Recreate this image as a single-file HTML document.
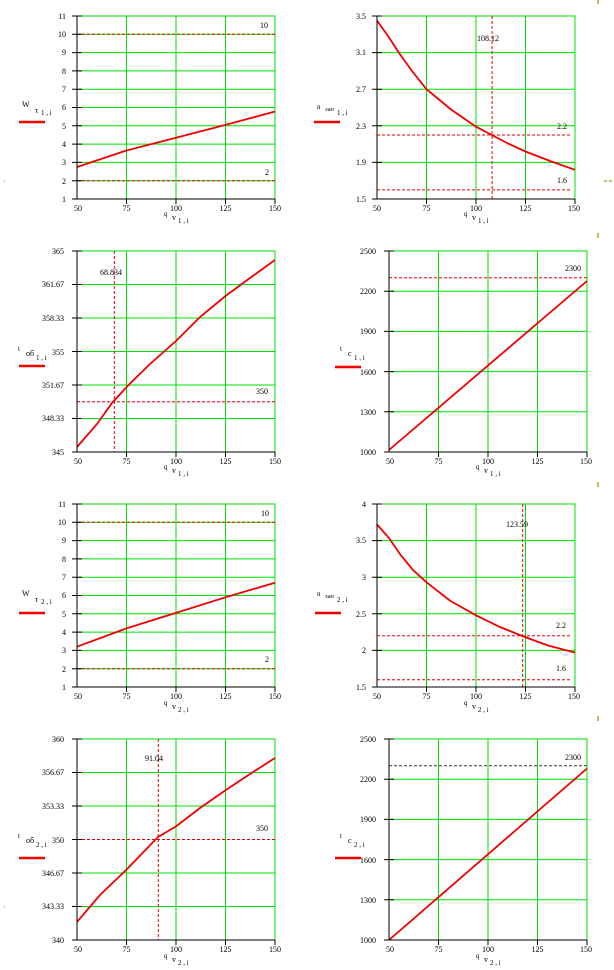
<!DOCTYPE html>
<html><head><meta charset="utf-8"><style>
html,body{margin:0;padding:0;background:#fff;}
svg{display:block;}
text{font-family:"Liberation Serif",serif;font-size:8px;fill:#000;}
.g{stroke:#00e000;stroke-width:1;fill:none;}
.ax{stroke:#000;stroke-width:1;fill:none;}
.c{stroke:#f00000;stroke-width:1.8;fill:none;}
.d{stroke:#e00000;stroke-width:1;stroke-dasharray:3,2;fill:none;}
.dk{stroke:#333;stroke-width:1;stroke-dasharray:3,2;fill:none;}
.lg{stroke:#f00000;stroke-width:2.5;}
.r{text-anchor:end;}
.m{text-anchor:middle;}
.ol{stroke:#8a9a00;stroke-width:1.2;}
</style></head><body>
<svg width="614" height="970" viewBox="0 0 614 970" xmlns="http://www.w3.org/2000/svg">
<!-- misc marks -->
<line class="ol" x1="598" y1="0" x2="598" y2="4"/>
<line class="ol" x1="598" y1="233" x2="598" y2="238"/>
<line class="ol" x1="598" y1="482" x2="598" y2="487"/>
<line class="ol" x1="598" y1="716" x2="598" y2="721"/>
<line class="ol" x1="604" y1="181" x2="607" y2="181"/><line class="ol" x1="609" y1="181" x2="612" y2="181"/>
<line class="ol" x1="4" y1="181" x2="5" y2="181"/>
<line class="ol" x1="4" y1="907" x2="5" y2="907"/>

<!-- ============ PLOT 1 ============ -->
<g>
<path class="g" d="M77,16H275V199 M77,34.3H275 M77,52.6H275 M77,70.9H275 M77,89.2H275 M77,107.5H275 M77,125.8H275 M77,144.1H275 M77,162.4H275 M77,180.7H275 M126.5,16V199 M176,16V199 M225.5,16V199"/>
<line class="d" x1="77" y1="34.3" x2="275" y2="34.3"/>
<line class="d" x1="77" y1="180.7" x2="275" y2="180.7"/>
<polyline class="c" points="77,167 126.5,150.5 176,137.7 225.5,124.9 275,111.5"/>
<path class="ax" d="M77,16V199H275 M72,16H82 M72,34.3H82 M72,52.6H82 M72,70.9H82 M72,89.2H82 M72,107.5H82 M72,125.8H82 M72,144.1H82 M72,162.4H82 M72,180.7H82 M72,199H82 M126.5,199V204 M176,199V204 M225.5,199V204 M275,199V204"/>
<text class="r" x="66" y="19">11</text><text class="r" x="66" y="37">10</text><text class="r" x="66" y="55">9</text><text class="r" x="66" y="74">8</text><text class="r" x="66" y="92">7</text><text class="r" x="66" y="110">6</text><text class="r" x="66" y="129">5</text><text class="r" x="66" y="147">4</text><text class="r" x="66" y="165">3</text><text class="r" x="66" y="184">2</text><text class="r" x="66" y="202">1</text>
<text class="m" x="78" y="211">50</text><text class="m" x="126.5" y="211">75</text><text class="m" x="176" y="211">100</text><text class="m" x="225.5" y="211">125</text><text class="m" x="275" y="211">150</text>
<text x="260" y="28">10</text><text x="265" y="175">2</text>
<text x="22" y="107">W</text><text x="35" y="113">τ</text><text x="41" y="115" style="font-size:7px">1 , i</text>
<line class="lg" x1="19" y1="122" x2="45" y2="122"/>
<text x="164" y="216" style="font-size:7px">q</text><text x="172" y="220">v</text><text x="178" y="223" style="font-size:7px">1 , i</text>
</g>

<!-- ============ PLOT 2 ============ -->
<g>
<path class="g" d="M377,16H575V199 M377,52.6H575 M377,89.2H575 M377,125.8H575 M377,162.4H575 M426.5,16V199 M476,16V199 M525.5,16V199"/>
<line class="d" x1="377" y1="135" x2="572" y2="135"/>
<line class="d" x1="377" y1="189.9" x2="572" y2="189.9"/>
<line class="d" x1="492.1" y1="16" x2="492.1" y2="199"/>
<polyline class="c" points="377,20.6 388,36 398.8,52.6 412,71 426.5,89.2 451,109.5 476,126.7 491.8,135 508,143.5 525.5,151.5 550,161 575,169.8"/>
<path class="ax" d="M377,16V199H575 M372,16H382 M372,52.6H382 M372,89.2H382 M372,125.8H382 M372,162.4H382 M372,199H382 M426.5,199V204 M476,199V204 M525.5,199V204 M575,199V204"/>
<text class="r" x="366" y="19">3.5</text><text class="r" x="366" y="55">3.1</text><text class="r" x="366" y="92">2.7</text><text class="r" x="366" y="129">2.3</text><text class="r" x="366" y="165">1.9</text><text class="r" x="366" y="202">1.5</text>
<text class="m" x="377" y="211">50</text><text class="m" x="426.5" y="211">75</text><text class="m" x="476" y="211">100</text><text class="m" x="525.5" y="211">125</text><text class="m" x="574" y="211">150</text>
<text x="477" y="41">108.12</text><text x="557" y="129">2.2</text><text x="557" y="183">1.6</text>
<text x="317" y="109" style="font-size:7px">n</text><text x="325" y="111" style="font-size:6.5px">зап</text><text x="337" y="115" style="font-size:7px">1 , i</text>
<line class="lg" x1="314" y1="122" x2="340" y2="122"/>
<text x="464" y="216" style="font-size:7px">q</text><text x="472" y="220">v</text><text x="478" y="223" style="font-size:7px">1 , i</text>
</g>

<!-- ============ PLOT 3 ============ -->
<g>
<path class="g" d="M77,251H275V452 M77,284.5H275 M77,318H275 M77,351.5H275 M77,385H275 M77,418.5H275 M126.5,251V452 M176,251V452 M225.5,251V452"/>
<line class="d" x1="77" y1="401.7" x2="275" y2="401.7"/>
<line class="d" x1="114.3" y1="251" x2="114.3" y2="452"/>
<polyline class="c" points="77,447 97,424 112,403 128.5,385 150,364 176,341 200,317 225.5,296 250,278 275,260"/>
<path class="ax" d="M77,251V452H275 M72,251H82 M72,284.5H82 M72,318H82 M72,351.5H82 M72,385H82 M72,418.5H82 M72,452H82 M126.5,452V457 M176,452V457 M225.5,452V457 M275,452V457"/>
<text class="r" x="64" y="254">365</text><text class="r" x="64" y="287">361.67</text><text class="r" x="64" y="321">358.33</text><text class="r" x="64" y="355">355</text><text class="r" x="64" y="388">351.67</text><text class="r" x="64" y="421">348.33</text><text class="r" x="64" y="455">345</text>
<text class="m" x="78" y="464">50</text><text class="m" x="126.5" y="464">75</text><text class="m" x="176" y="464">100</text><text class="m" x="225.5" y="464">125</text><text class="m" x="275" y="464">150</text>
<text x="100" y="275">68.834</text><text x="256" y="394">350</text>
<text x="18" y="351" style="font-size:7px">t</text><text x="26" y="356">об</text><text x="36" y="360" style="font-size:7px">1 , i</text>
<line class="lg" x1="19" y1="366" x2="45" y2="366"/>
<text x="164" y="469" style="font-size:7px">q</text><text x="172" y="473">v</text><text x="178" y="476" style="font-size:7px">1 , i</text>
</g>

<!-- ============ PLOT 4 ============ -->
<g>
<path class="g" d="M389,251H587V452 M389,291.2H587 M389,331.4H587 M389,371.6H587 M389,411.8H587 M438.5,251V452 M488,251V452 M537.5,251V452"/>
<line class="d" x1="389" y1="277.8" x2="587" y2="277.8"/>
<polyline class="c" points="389,450 587,281"/>
<path class="ax" d="M389,251V452H587 M384,251H394 M384,291.2H394 M384,331.4H394 M384,371.6H394 M384,411.8H394 M384,452H394 M438.5,452V457 M488,452V457 M537.5,452V457 M587,452V457"/>
<text class="r" x="376" y="254">2500</text><text class="r" x="376" y="294">2200</text><text class="r" x="376" y="334">1900</text><text class="r" x="376" y="375">1600</text><text class="r" x="376" y="415">1300</text><text class="r" x="376" y="455">1000</text>
<text class="m" x="390" y="464">50</text><text class="m" x="438.5" y="464">75</text><text class="m" x="488" y="464">100</text><text class="m" x="537.5" y="464">125</text><text class="m" x="586" y="464">150</text>
<text x="565" y="271">2300</text>
<text x="340" y="351" style="font-size:7px">t</text><text x="348" y="356">c</text><text x="354" y="360" style="font-size:7px">1 , i</text>
<line class="lg" x1="335" y1="367" x2="361" y2="367"/>
<text x="476" y="469" style="font-size:7px">q</text><text x="484" y="473">v</text><text x="490" y="476" style="font-size:7px">1 , i</text>
</g>

<!-- ============ PLOT 5 ============ -->
<g>
<path class="g" d="M77,504H275V687 M77,522.3H275 M77,540.6H275 M77,558.9H275 M77,577.2H275 M77,595.5H275 M77,613.8H275 M77,632.1H275 M77,650.4H275 M77,668.7H275 M126.5,504V687 M176,504V687 M225.5,504V687"/>
<line class="d" x1="77" y1="522.3" x2="275" y2="522.3"/>
<line class="d" x1="77" y1="668.7" x2="275" y2="668.7"/>
<polyline class="c" points="77,646.7 126.5,628.4 176,612.9 225.5,597.3 275,582.7"/>
<path class="ax" d="M77,504V687H275 M72,504H82 M72,522.3H82 M72,540.6H82 M72,558.9H82 M72,577.2H82 M72,595.5H82 M72,613.8H82 M72,632.1H82 M72,650.4H82 M72,668.7H82 M72,687H82 M126.5,687V692 M176,687V692 M225.5,687V692 M275,687V692"/>
<text class="r" x="66" y="507">11</text><text class="r" x="66" y="525">10</text><text class="r" x="66" y="543">9</text><text class="r" x="66" y="562">8</text><text class="r" x="66" y="580">7</text><text class="r" x="66" y="598">6</text><text class="r" x="66" y="617">5</text><text class="r" x="66" y="635">4</text><text class="r" x="66" y="653">3</text><text class="r" x="66" y="672">2</text><text class="r" x="66" y="690">1</text>
<text class="m" x="78" y="699">50</text><text class="m" x="126.5" y="699">75</text><text class="m" x="176" y="699">100</text><text class="m" x="225.5" y="699">125</text><text class="m" x="275" y="699">150</text>
<text x="261" y="516">10</text><text x="265" y="662">2</text>
<text x="22" y="596">W</text><text x="35" y="602">τ</text><text x="41" y="604" style="font-size:7px">2 , i</text>
<line class="lg" x1="19" y1="613" x2="45" y2="613"/>
<text x="164" y="705" style="font-size:7px">q</text><text x="172" y="709">v</text><text x="178" y="712" style="font-size:7px">2 , i</text>
</g>

<!-- ============ PLOT 6 ============ -->
<g>
<path class="g" d="M377,504H575V687 M377,540.6H575 M377,577.2H575 M377,613.8H575 M377,650.4H575 M426.5,504V687 M476,504V687 M525.5,504V687"/>
<line class="d" x1="377" y1="635.8" x2="572" y2="635.8"/>
<line class="d" x1="377" y1="679.7" x2="572" y2="679.7"/>
<line class="d" x1="522.7" y1="504" x2="522.7" y2="687"/>
<polyline class="c" points="377,524.5 389,538 400.8,555.2 413,570 426.5,582.3 450,600.6 476,615.3 500,627 523.5,636.5 548,645.5 575,652.6"/>
<path class="ax" d="M377,504V687H575 M372,504H382 M372,540.6H382 M372,577.2H382 M372,613.8H382 M372,650.4H382 M372,687H382 M426.5,687V692 M476,687V692 M525.5,687V692 M575,687V692"/>
<text class="r" x="366" y="507">4</text><text class="r" x="366" y="543">3.5</text><text class="r" x="366" y="580">3</text><text class="r" x="366" y="617">2.5</text><text class="r" x="366" y="653">2</text><text class="r" x="366" y="690">1.5</text>
<text class="m" x="377" y="699">50</text><text class="m" x="426.5" y="699">75</text><text class="m" x="476" y="699">100</text><text class="m" x="525.5" y="699">125</text><text class="m" x="574" y="699">150</text>
<text x="506" y="527">123.59</text><text x="556" y="628">2.2</text><text x="556" y="671">1.6</text>
<text x="317" y="596" style="font-size:7px">n</text><text x="325" y="598" style="font-size:6.5px">зап</text><text x="337" y="602" style="font-size:7px">2 , i</text>
<line class="lg" x1="315" y1="613" x2="341" y2="613"/>
<text x="464" y="705" style="font-size:7px">q</text><text x="472" y="709">v</text><text x="478" y="712" style="font-size:7px">2 , i</text>
</g>

<!-- ============ PLOT 7 ============ -->
<g>
<path class="g" d="M77,739H275V940 M77,772.5H275 M77,806H275 M77,873H275 M77,906.5H275 M126.5,739V940 M176,739V940 M225.5,739V940"/>
<line class="d" x1="77" y1="839.5" x2="275" y2="839.5"/>
<line class="d" x1="158.3" y1="739" x2="158.3" y2="940"/>
<polyline class="c" points="77,921.9 100,895 126.5,869.6 158,837 176,826.4 200,808 225.5,790.2 250,774 275,758"/>
<path class="ax" d="M77,739V940H275 M72,739H82 M72,772.5H82 M72,806H82 M72,839.5H82 M72,873H82 M72,906.5H82 M72,940H82 M126.5,940V945 M176,940V945 M225.5,940V945 M275,940V945"/>
<text class="r" x="64" y="742">360</text><text class="r" x="64" y="775">356.67</text><text class="r" x="64" y="809">353.33</text><text class="r" x="64" y="843">350</text><text class="r" x="64" y="876">346.67</text><text class="r" x="64" y="909">343.33</text><text class="r" x="64" y="943">340</text>
<text class="m" x="78" y="952">50</text><text class="m" x="126.5" y="952">75</text><text class="m" x="176" y="952">100</text><text class="m" x="225.5" y="952">125</text><text class="m" x="275" y="952">150</text>
<text x="145" y="761">91.04</text><text x="256" y="831">350</text>
<text x="18" y="838" style="font-size:7px">t</text><text x="26" y="843">об</text><text x="36" y="847" style="font-size:7px">2 , i</text>
<line class="lg" x1="19" y1="858" x2="45" y2="858"/>
<text x="164" y="958" style="font-size:7px">q</text><text x="172" y="962">v</text><text x="178" y="965" style="font-size:7px">2 , i</text>
</g>

<!-- ============ PLOT 8 ============ -->
<g>
<path class="g" d="M389,739H587V940 M389,779.2H587 M389,819.4H587 M389,859.6H587 M389,899.8H587 M438.5,739V940 M488,739V940 M537.5,739V940"/>
<line class="dk" x1="389" y1="765.8" x2="587" y2="765.8"/>
<polyline class="c" points="389,940 587,768.5"/>
<path class="ax" d="M389,739V940H587 M384,739H394 M384,779.2H394 M384,819.4H394 M384,859.6H394 M384,899.8H394 M384,940H394 M438.5,940V945 M488,940V945 M537.5,940V945 M587,940V945"/>
<text class="r" x="376" y="742">2500</text><text class="r" x="376" y="782">2200</text><text class="r" x="376" y="822">1900</text><text class="r" x="376" y="863">1600</text><text class="r" x="376" y="903">1300</text><text class="r" x="376" y="943">1000</text>
<text class="m" x="390" y="952">50</text><text class="m" x="438.5" y="952">75</text><text class="m" x="488" y="952">100</text><text class="m" x="537.5" y="952">125</text><text class="m" x="586" y="952">150</text>
<text x="565" y="760">2300</text>
<text x="340" y="838" style="font-size:7px">t</text><text x="348" y="843">c</text><text x="354" y="847" style="font-size:7px">2 , i</text>
<line class="lg" x1="335" y1="858" x2="361" y2="858"/>
<text x="476" y="958" style="font-size:7px">q</text><text x="484" y="962">v</text><text x="490" y="965" style="font-size:7px">2 , i</text>
</g>
</svg>
</body></html>
